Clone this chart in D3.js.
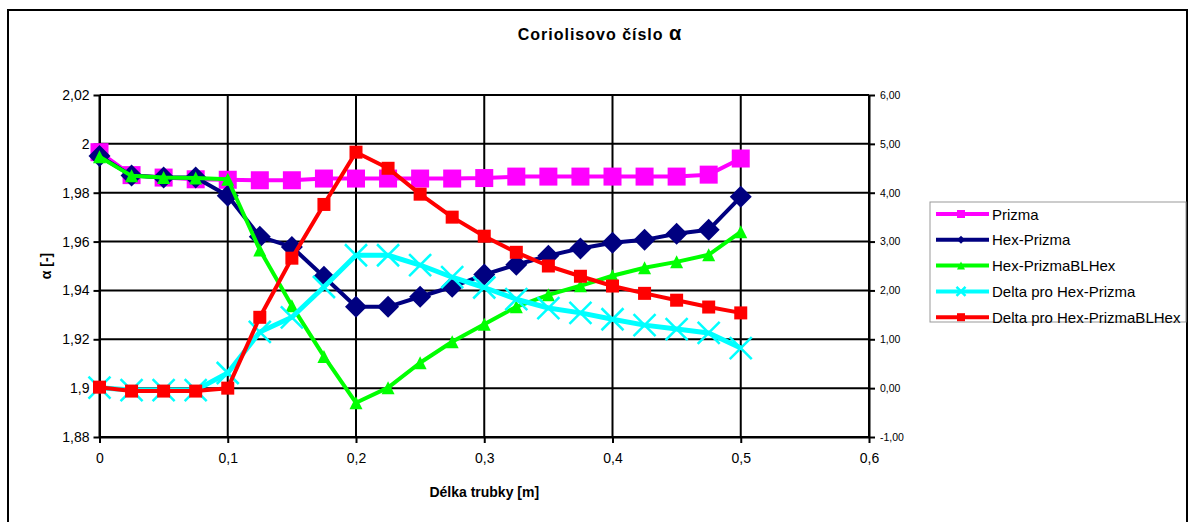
<!DOCTYPE html>
<html>
<head>
<meta charset="utf-8">
<script src="https://cdn.jsdelivr.net/npm/d3@7"></script>
<style>
    body { margin: 0; background: #fff; }
    svg { display: block; font-family: "Liberation Sans", Arial, sans-serif; }
</style>
</head>
<body>
<svg width="1196" height="522"></svg>
<script>
// x positions along the tube [m]
const delka = [0, 0.025, 0.05, 0.075, 0.1, 0.125, 0.15, 0.175, 0.2, 0.225, 0.25,
    0.275, 0.3, 0.325, 0.35, 0.375, 0.4, 0.425, 0.45, 0.475, 0.5];

// Coriolis number (left axis)
const prizma = [1.9966, 1.9872, 1.9862, 1.9855, 1.9853, 1.9851, 1.9851, 1.9858, 1.9858, 1.9858, 1.9858,
    1.9858, 1.9860, 1.9866, 1.9866, 1.9866, 1.9866, 1.9866, 1.9866, 1.9874, 1.9940];
const hexPrizma = [1.9950, 1.9870, 1.9862, 1.9862, 1.9788, 1.9620, 1.9578, 1.9456, 1.9333, 1.9333, 1.9374,
    1.9415, 1.9465, 1.9505, 1.9542, 1.9572, 1.9595, 1.9607, 1.9632, 1.9648, 1.9783];
const hexPrizmaBL = [1.9947, 1.9869, 1.9862, 1.9860, 1.9855, 1.9566, 1.9337, 1.9130, 1.8940, 1.9002, 1.9104,
    1.9190, 1.9262, 1.9333, 1.9382, 1.9419, 1.9460, 1.9493, 1.9517, 1.9546, 1.9640];

// deltas (right axis)
const deltaHex = [0.01, -0.04, -0.04, -0.04, 0.31, 1.15, 1.45, 2.07, 2.72, 2.72, 2.52,
    2.27, 2.06, 1.82, 1.64, 1.54, 1.41, 1.29, 1.21, 1.13, 0.82];
const deltaHexBL = [0.02, -0.06, -0.06, -0.06, 0.00, 1.45, 2.66, 3.76, 4.83, 4.50, 3.97,
    3.50, 3.11, 2.78, 2.50, 2.29, 2.09, 1.94, 1.80, 1.66, 1.54];

const xTicks = [0, 0.1, 0.2, 0.3, 0.4, 0.5, 0.6];
const yLeftTicks = [1.88, 1.90, 1.92, 1.94, 1.96, 1.98, 2.00, 2.02];
const yRightTicks = [-1, 0, 1, 2, 3, 4, 5, 6];

const series = [
    {name: "Prizma", values: prizma, axis: "left", color: "#ff00ff", marker: "square", size: 18, lw: 4},
    {name: "Hex-Prizma", values: hexPrizma, axis: "left", color: "#000080", marker: "diamond", size: 22, lw: 4},
    {name: "Hex-PrizmaBLHex", values: hexPrizmaBL, axis: "left", color: "#00ff00", marker: "triangle", size: 13, lw: 4},
    {name: "Delta pro Hex-Prizma", values: deltaHex, axis: "right", color: "#00ffff", marker: "x", size: 22, lw: 5},
    {name: "Delta pro Hex-PrizmaBLHex", values: deltaHexBL, axis: "right", color: "#ff0000", marker: "square", size: 13, lw: 4},
];

const plot = {left: 99.5, right: 869, top: 95, bottom: 437};

const svg = d3.select("svg");

// chart frame
svg.append("rect")
    .attr("x", 8).attr("y", 10)
    .attr("width", 1179).attr("height", 540)
    .attr("fill", "none").attr("stroke", "#000").attr("stroke-width", 2);

const x = d3.scaleLinear().domain([0, 0.6]).range([plot.left, plot.right]);
const yL = d3.scaleLinear().domain([1.88, 2.02]).range([plot.bottom, plot.top]);
const yR = d3.scaleLinear().domain([-1, 6]).range([plot.bottom, plot.top]);

const comma = s => s.replace(".", ",");

// grid
const grid = svg.append("g").attr("stroke", "#000").attr("stroke-width", 2);
grid.selectAll(".h").data(yLeftTicks).enter().append("line")
    .attr("x1", plot.left).attr("x2", plot.right)
    .attr("y1", d => yL(d)).attr("y2", d => yL(d));
grid.selectAll(".v").data(xTicks).enter().append("line")
    .attr("x1", d => x(d)).attr("x2", d => x(d))
    .attr("y1", plot.top).attr("y2", plot.bottom);

// axes
const axisStyle = g => {
    g.select(".domain").attr("stroke-width", 2);
    g.selectAll(".tick line").attr("stroke-width", 2);
    g.selectAll("text").attr("fill", "#000");
};

svg.append("g")
    .attr("transform", "translate(" + plot.left + ",0)")
    .call(d3.axisLeft(yL).tickValues(yLeftTicks).tickSize(6).tickSizeOuter(0).tickPadding(4)
        .tickFormat(d => comma(String(+d.toFixed(2)))))
    .call(axisStyle)
    .selectAll("text").attr("font-size", 14);

svg.append("g")
    .attr("transform", "translate(" + plot.right + ",0)")
    .call(d3.axisRight(yR).tickValues(yRightTicks).tickSize(6).tickSizeOuter(0).tickPadding(5)
        .tickFormat(d => comma(d.toFixed(2))))
    .call(axisStyle)
    .selectAll("text").attr("font-size", 10.5);

svg.append("g")
    .attr("transform", "translate(0," + plot.bottom + ")")
    .call(d3.axisBottom(x).tickValues(xTicks).tickSize(6).tickSizeOuter(0).tickPadding(10)
        .tickFormat(d => comma(String(+d.toFixed(1)))))
    .call(axisStyle)
    .selectAll("text").attr("font-size", 14);

// titles
const title = svg.append("text")
    .attr("x", 600).attr("y", 40)
    .attr("text-anchor", "middle")
    .attr("font-size", 16).attr("font-weight", "bold").attr("letter-spacing", 1);
title.append("tspan").text("Coriolisovo číslo ");
title.append("tspan").attr("font-size", 20).text("α");

svg.append("text")
    .attr("x", (plot.left + plot.right) / 2).attr("y", 497)
    .attr("text-anchor", "middle")
    .attr("font-size", 14).attr("font-weight", "bold")
    .text("Délka trubky [m]");

svg.append("text")
    .attr("transform", "translate(51," + (plot.top + plot.bottom) / 2 + ") rotate(-90)")
    .attr("text-anchor", "middle")
    .attr("font-size", 14).attr("font-weight", "bold")
    .text("α [-]");

// markers
function drawMarker(g, type, size, color) {
    const h = size / 2;
    if (type === "square") {
        g.append("rect").attr("x", -h).attr("y", -h).attr("width", size).attr("height", size)
            .attr("fill", color);
    } else if (type === "diamond") {
        g.append("path").attr("d", "M0," + -h + "L" + h + ",0L0," + h + "L" + -h + ",0Z")
            .attr("fill", color);
    } else if (type === "triangle") {
        g.append("path").attr("d", "M0," + (-h) + "L" + h + "," + h + "L" + -h + "," + h + "Z")
            .attr("fill", color);
    } else if (type === "x") {
        g.append("path").attr("d", "M" + -h + "," + -h + "L" + h + "," + h + "M" + h + "," + -h + "L" + -h + "," + h)
            .attr("stroke", color).attr("stroke-width", 2.5).attr("fill", "none");
    }
}

// series
series.forEach(s => {
    const yScale = s.axis === "left" ? yL : yR;
    const pts = delka.map((d, i) => [x(d), yScale(s.values[i])]);
    const g = svg.append("g");
    g.append("path")
        .attr("d", d3.line()(pts))
        .attr("fill", "none").attr("stroke", s.color).attr("stroke-width", s.lw)
        .attr("stroke-linejoin", "round");
    pts.forEach(p => {
        drawMarker(g.append("g").attr("transform", "translate(" + p[0] + "," + p[1] + ")"), s.marker, s.size, s.color);
    });
});

// legend
const legend = svg.append("g").attr("transform", "translate(930,202)");
legend.append("rect")
    .attr("width", 256).attr("height", 120)
    .attr("fill", "#fff").attr("stroke", "#999").attr("stroke-width", 1);
series.forEach((s, i) => {
    const row = legend.append("g").attr("transform", "translate(0," + (12 + i * 25.8) + ")");
    row.append("line").attr("x1", 6).attr("x2", 59).attr("y1", 0).attr("y2", 0)
        .attr("stroke", s.color).attr("stroke-width", 4);
    drawMarker(row.append("g").attr("transform", "translate(31,0)"), s.marker,
        s.marker === "x" ? 9 : 8, s.color);
    row.append("text").attr("x", 62).attr("y", 5.5)
        .attr("font-size", 15).text(s.name);
});
</script>
</body>
</html>
